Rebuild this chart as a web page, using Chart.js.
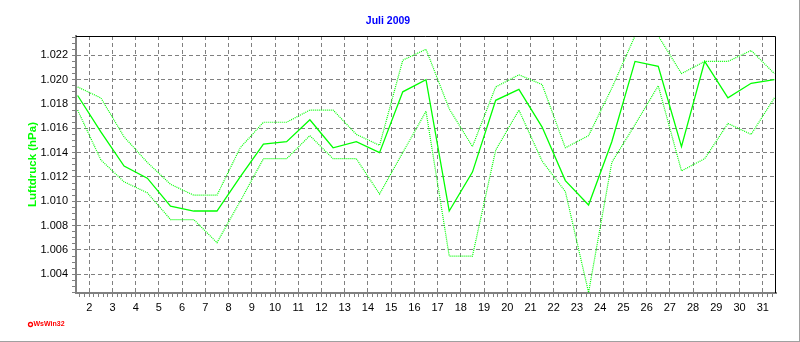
<!DOCTYPE html>
<html><head><meta charset="utf-8">
<script src="https://cdn.jsdelivr.net/npm/chart.js@4/dist/chart.umd.min.js"></script>
<style>
html,body{margin:0;padding:0;background:#fff;}
#wrap{width:799px;height:341px;border-right:1px solid #a0a0a0;border-bottom:1px solid #a0a0a0;}
canvas{display:block;}
</style></head><body>
<div id="wrap"><canvas id="c" width="799" height="341"></canvas></div>
<script>
// ---- data (Juli 2009, Luftdruck) ----
const days = [1,2,3,4,5,6,7,8,9,10,11,12,13,14,15,16,17,18,19,20,21,22,23,24,25,26,27,28,29,30,31];
const meanValues = [1.0187,1.0157,1.0129,1.0119,1.0096,1.0092,1.0092,1.0120,1.0147,1.0149,1.0167,1.0144,1.0149,1.0140,1.0190,1.0200,1.0092,1.0124,1.0183,1.0192,1.0161,1.0117,1.0097,1.0149,1.0215,1.0211,1.0145,1.0215,1.0185,1.0197,1.0200];
const maxValues  = [1.0194,1.0185,1.0153,1.0132,1.0114,1.0105,1.0105,1.0144,1.0165,1.0165,1.0175,1.0175,1.0155,1.0146,1.0216,1.0225,1.0176,1.0145,1.0194,1.0204,1.0196,1.0144,1.0154,1.0193,1.0236,1.0236,1.0205,1.0215,1.0215,1.0224,1.0205];
const minValues  = [1.0175,1.0134,1.0116,1.0107,1.0085,1.0085,1.0066,1.0100,1.0135,1.0135,1.0154,1.0135,1.0135,1.0106,1.0140,1.0174,1.0055,1.0055,1.0142,1.0175,1.0133,1.0108,1.0025,1.0132,1.0163,1.0195,1.0125,1.0135,1.0164,1.0155,1.0185];
const xTickLabels = ['2','3','4','5','6','7','8','9','10','11','12','13','14','15','16','17','18','19','20','21','22','23','24','25','26','27','28','29','30','31'];
const yTickLabels = ['1.004','1.006','1.008','1.010','1.012','1.014','1.016','1.018','1.020','1.022'];
const titleText = 'Juli 2009';
const yAxisTitle = 'Luftdruck (hPa)';
const footerText = 'WsWin32';

const X_MIN = 1.43, X_MAX = 31.57;
const Y_MIN = 1.00246, Y_MAX = 1.02359;
const GREEN = '#00ff00';
const GRID = '#808080';
const FONT = "'Liberation Sans', Arial, sans-serif";

const isInt = v => Math.abs(v - Math.round(v)) < 1e-6;
const isYMajor = v => Math.round(v * 2000) % 4 === 0;

const pts = arr => days.map((d, i) => ({x: d + 0.5, y: arr[i]}));

const framePlugin = {
  id: 'frame',
  afterDraw(chart) {
    const {ctx, chartArea: {left, top, right, bottom}} = chart;
    ctx.save();
    ctx.strokeStyle = '#000';
    ctx.lineWidth = 1;
    ctx.beginPath();
    ctx.moveTo(left, top + 0.5);
    ctx.lineTo(right - 0.5, top + 0.5);
    ctx.lineTo(right - 0.5, bottom);
    ctx.stroke();
    // footer mark
    ctx.strokeStyle = '#ff0000';
    ctx.fillStyle = '#ffffff';
    ctx.lineWidth = 1.3;
    ctx.beginPath();
    ctx.arc(30.5, 324.5, 2, 0, Math.PI * 2);
    ctx.fill(); ctx.stroke();
    ctx.fillStyle = '#ff0000';
    ctx.font = "bold 7px " + FONT;
    ctx.textBaseline = 'middle';
    ctx.textAlign = 'left';
    ctx.fillText(footerText, 33.5, 324.5);
    ctx.restore();
  }
};

new Chart(document.getElementById('c'), {
  type: 'line',
  data: {
    datasets: [
      {label: 'Min', data: pts(minValues), borderColor: GREEN, borderWidth: 1.2, borderDash: [1, 1], pointRadius: 0, tension: 0, fill: false},
      {label: 'Max', data: pts(maxValues), borderColor: GREEN, borderWidth: 1.2, borderDash: [1, 1], pointRadius: 0, tension: 0, fill: false},
      {label: 'Mittel', data: pts(meanValues), borderColor: GREEN, borderWidth: 1.3, pointRadius: 0, tension: 0, fill: false}
    ]
  },
  options: {
    responsive: false,
    animation: false,
    events: [],
    layout: {padding: {left: 0, right: 23, top: 0, bottom: 0}},
    plugins: {
      legend: {display: false},
      tooltip: {enabled: false},
      title: {
        display: true, text: titleText, color: '#0000ff',
        font: {family: FONT, size: 10.5, weight: 'bold', lineHeight: 1.2},
        padding: {top: 15, bottom: 36 - 15 - 12.6}
      }
    },
    scales: {
      x: {
        type: 'linear', min: X_MIN, max: X_MAX,
        afterFit: s => { s.height = 48; },
        afterBuildTicks: s => {
          const t = [];
          for (let i = Math.ceil(X_MIN * 5); i <= Math.floor(X_MAX * 5); i++) t.push({value: i / 5});
          s.ticks = t;
        },
        ticks: {
          autoSkip: false, maxRotation: 0, minRotation: 0, padding: 4,
          color: '#000', font: {family: FONT, size: 11},
          callback: v => {
            if (!isInt(v)) return '';
            const s = String(Math.round(v));
            return xTickLabels.includes(s) ? s : '';
          }
        },
        grid: {
          color: c => (c.tick && isInt(c.tick.value)) ? GRID : 'rgba(0,0,0,0)',
          tickColor: GRID, tickLength: 4, lineWidth: 1, drawTicks: true
        },
        border: {display: true, color: GRID, width: 2, dash: [4, 3]}
      },
      y: {
        type: 'linear', min: Y_MIN, max: Y_MAX,
        afterFit: s => { s.width = 76; },
        afterBuildTicks: s => {
          const t = [];
          for (let i = Math.ceil(Y_MIN * 2000); i <= Math.floor(Y_MAX * 2000); i++) t.push({value: i / 2000});
          s.ticks = t;
        },
        ticks: {
          autoSkip: false, padding: 4,
          color: '#000', font: {family: FONT, size: 11},
          callback: v => {
            if (!isYMajor(v)) return '';
            const lab = yTickLabels.find(l => Math.abs(parseFloat(l) - v) < 1e-7);
            return lab || '';
          }
        },
        grid: {
          color: c => (c.tick && isYMajor(c.tick.value)) ? GRID : 'rgba(0,0,0,0)',
          tickColor: GRID, tickLength: 4, lineWidth: 1
        },
        border: {display: true, color: GRID, width: 2, dash: [4, 3]},
        title: {
          display: true, text: yAxisTitle, color: GREEN,
          font: {family: FONT, size: 11.5, weight: 'bold', lineHeight: 1.2},
          padding: {top: 26, bottom: 0}
        }
      }
    }
  },
  plugins: [framePlugin]
});
</script>
</body></html>
